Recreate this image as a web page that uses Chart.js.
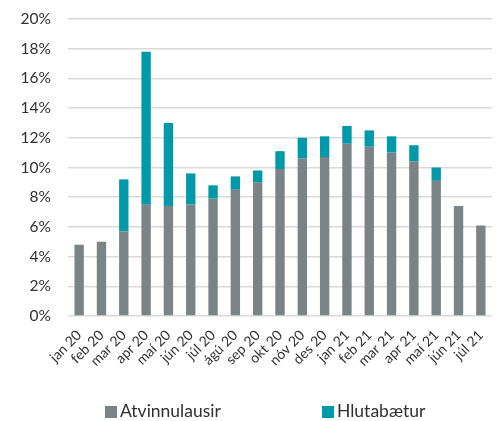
<!DOCTYPE html>
<html>
<head>
<meta charset="utf-8">
<script src="https://cdn.jsdelivr.net/npm/chart.js@4"></script>
<style>
  body { margin: 0; background: #fff; }
  #wrap { position: relative; width: 497px; height: 421px; overflow: hidden; }
  #legend { position: absolute; left: 0; top: 400px; width: 497px; font-family: Lato, sans-serif; font-size: 17.5px; color: #303030; }
  .item { position: absolute; top: 0; white-space: nowrap; }
  .box { display: inline-block; width: 12px; height: 12px; margin-right: 3px; vertical-align: -1px; }
</style>
</head>
<body>
<div id="wrap">
  <canvas id="grafico" width="497" height="421"></canvas>
  <div id="legend"></div>
</div>
<script>
const manudir = ["jan 20","feb 20","mar 20","apr 20","maí 20","jún 20","júl 20","ágú 20","sep 20","okt 20","nóv 20","des 20","jan 21","feb 21","mar 21","apr 21","maí 21","jún 21","júl 21"];

// hlutfall af vinnuafli, %
const atvinnulausir = [4.8, 5.0, 5.7, 7.5, 7.4, 7.5, 7.9, 8.5, 9.0, 9.9, 10.6, 10.7, 11.6, 11.4, 11.0, 10.4, 9.1, 7.4, 6.1];
const hlutabaetur   = [0, 0, 3.5, 10.3, 5.6, 2.1, 0.9, 0.9, 0.8, 1.2, 1.4, 1.4, 1.2, 1.1, 1.1, 1.1, 0.9, 0, 0];

const yTicks = [0, 2, 4, 6, 8, 10, 12, 14, 16, 18, 20];

const LITIR = ["#7a8385", "#0099a9"];

const chart = new Chart(document.getElementById("grafico"), {
  type: "bar",
  data: {
    labels: manudir,
    datasets: [
      { label: "Atvinnulausir", data: atvinnulausir, backgroundColor: LITIR[0] },
      { label: "Hlutabætur", data: hlutabaetur, backgroundColor: LITIR[1] }
    ]
  },
  options: {
    responsive: false,
    animation: false,
    layout: { padding: { top: 19, right: 5, left: 0, bottom: 0 } },
    datasets: {
      bar: { barPercentage: 0.42, categoryPercentage: 1, borderWidth: 0 }
    },
    plugins: {
      legend: { display: false },
      tooltip: { enabled: false }
    },
    scales: {
      x: {
        stacked: true,
        grid: { display: false },
        border: { display: false },
        ticks: {
          maxRotation: 45, minRotation: 45, autoSkip: false,
          color: "#303030", padding: 3,
          font: { family: "Lato", size: 14 }
        },
        afterFit: ax => { ax.height = 105; }
      },
      y: {
        stacked: true,
        min: 0, max: 20,
        afterBuildTicks: ax => { ax.ticks = yTicks.map(v => ({ value: v })); },
        grid: { color: "#d9d9d9", lineWidth: 1.5, drawTicks: false },
        border: { display: false },
        ticks: {
          color: "#303030", padding: 17,
          font: { family: "Lato", size: 15.5 },
          callback: v => v + "%"
        },
        afterFit: ax => { ax.width = 68; ax.paddingTop = 0; ax.paddingBottom = 0; }
      }
    }
  }
});

/* skýringar */
const legend = document.getElementById("legend");
const stadir = [105, 322];
chart.data.datasets.forEach((d, i) => {
  const el = document.createElement("span");
  el.className = "item";
  el.style.left = stadir[i] + "px";
  el.innerHTML = `<span class="box" style="background:${d.backgroundColor}"></span>${d.label}`;
  legend.appendChild(el);
});
</script>
</body>
</html>
